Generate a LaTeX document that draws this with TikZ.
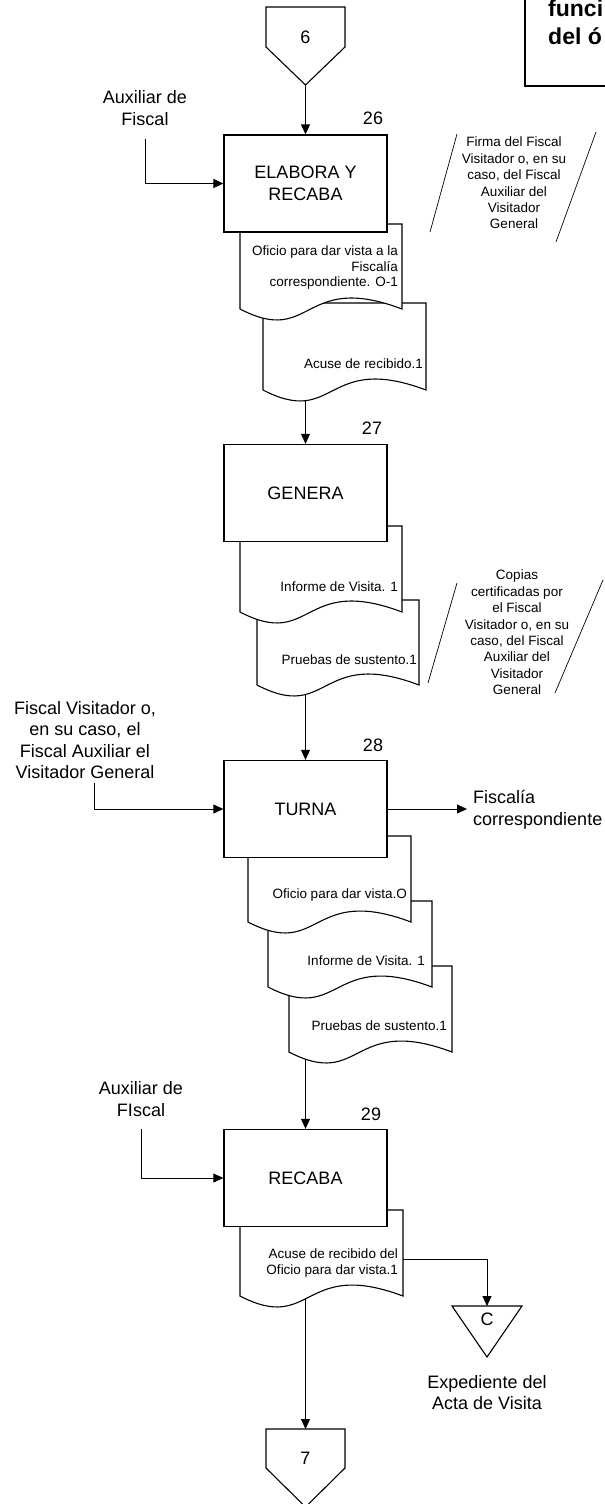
\documentclass[tikz,border=0pt]{standalone}
\usepackage{fontspec}
\setmainfont{Liberation Sans}
\usetikzlibrary{arrows.meta}
\newcommand\bigf{\fontsize{18bp}{21.5bp}\selectfont}
\newcommand\smallf{\fontsize{13.5bp}{15.5bp}\selectfont}
\newcommand\annf{\fontsize{13.5bp}{16.4bp}\selectfont}
\newcommand\boldf{\fontsize{23bp}{27bp}\selectfont\bfseries}
\newcommand\docshape[4]{\filldraw[shp] (#1,#4) -- (#1,#3) -- (#2,#3) -- (#2,#4) .. controls ({#1+0.38*(#2-#1)},{#4-38}) and ({#1+0.45*(#2-#1)},{#4+38}) .. (#1,#4) -- cycle;}
\begin{document}
\begin{tikzpicture}[x=1bp,y=-1bp,
  shp/.style={draw,line width=1.1bp,fill=white,line join=miter},
  proc/.style={draw,line width=1.3bp,fill=white,minimum width=163bp,minimum height=97bp,inner sep=0pt,align=center,font=\bigf},
  lbl/.style={inner sep=0pt,align=center,font=\bigf},
  doctxt/.style={inner sep=0pt,align=right,font=\smallf,anchor=east},
  anntxt/.style={inner sep=0pt,align=center,font=\annf},
  conn/.style={line width=0.9bp,-{Triangle[length=10bp,width=9bp]}},
  thinl/.style={line width=0.7bp},
]
\useasboundingbox (0,0) rectangle (605,1504);
\clip (0,0) rectangle (605,1504);

% top right box (cut by the page edge)
\draw[line width=2bp] (525,-10) rectangle (620,86);
\node[font=\boldf,anchor=base west,inner sep=0pt] (tr1) at (548,17) {funci};
\node[font=\boldf,anchor=base west,inner sep=0pt] (tr2) at (548,45) {del ó};

% off-page connector 6
\filldraw[shp] (266,7) -- (345,7) -- (345,47) -- (305.5,85) -- (266,47) -- cycle;
\coordinate (c6) at (305.5,85);
\node[lbl] (l6) at (305.5,37) {6};

% ---------- step 26
\docshape{263}{426}{303}{390}
\docshape{240}{402}{224}{309}
\node[proc] (b26) at (305.5,183.5) {ELABORA Y\\RECABA};
\node[lbl] (n26) at (373,118) {26};
\node[lbl] (in26) at (145,108) {Auxiliar de\\Fiscal};
\coordinate (in26s) at (145,139);
\draw[conn] (in26s) |- (b26.west);
\draw[conn] (c6) -- (b26.north);
\node[doctxt] (d26a) at (398,268) {Oficio para dar vista a la\\Fiscalía\\correspondiente. O-1};
\node[doctxt] (d26b) at (423,364) {Acuse de recibido.1};
\coordinate (d26bot) at (305.5,400.7);

% annotation 1
\coordinate (a1a) at (457,134); \coordinate (a1b) at (430,232);
\coordinate (a1c) at (596,132); \coordinate (a1d) at (556,242);
\draw[thinl] (a1a) -- (a1b);
\draw[thinl] (a1c) -- (a1d);
\node[anntxt] (ann1) at (514,183) {Firma del Fiscal\\Visitador o, en su\\caso, del Fiscal\\Auxiliar del\\Visitador\\General};

% ---------- step 27
\docshape{257}{419}{600}{685}
\docshape{240}{402}{526}{612}
\node[proc] (b27) at (305.5,493) {GENERA};
\node[lbl] (n27) at (372,428) {27};
\draw[conn] (d26bot) -- (b27.north);
\node[doctxt] (d27a) at (398,587) {Informe de Visita. 1};
\node[doctxt] (d27b) at (417,660) {Pruebas de sustento.1};
\coordinate (d27bot) at (305.5,694.6);

% annotation 2
\coordinate (a2a) at (457,583); \coordinate (a2b) at (428,683);
\coordinate (a2c) at (603,580); \coordinate (a2d) at (555,693);
\draw[thinl] (a2a) -- (a2b);
\draw[thinl] (a2c) -- (a2d);
\node[anntxt] (ann2) at (517,632.5) {Copias\\certificadas por\\el Fiscal\\Visitador o, en su\\caso, del Fiscal\\Auxiliar del\\Visitador\\General};

% ---------- step 28
\docshape{289}{452}{966}{1052}
\docshape{268}{432}{901}{987}
\docshape{248}{411}{836}{922}
\node[proc] (b28) at (305.5,809) {TURNA};
\node[lbl] (n28) at (373,745) {28};
\draw[conn] (d27bot) -- (b28.north);
\node[lbl] (in28) at (85,740) {Fiscal Visitador o,\\en su caso, el\\Fiscal Auxiliar el\\Visitador General};
\coordinate (in28s) at (94,783);
\draw[conn] (in28s) |- (b28.west);
\node[lbl,anchor=west,align=left] (out28) at (473,809.5) {Fiscalía\\correspondiente};
\coordinate (out28e) at (467,809);
\draw[conn] (b28.east) -- (out28e);
\node[doctxt] (d28a) at (407,895) {Oficio para dar vista.O};
\node[doctxt] (d28b) at (425,961) {Informe de Visita. 1};
\node[doctxt] (d28c) at (447,1026) {Pruebas de sustento.1};
\coordinate (d28bot) at (305.5,1059);

% ---------- step 29
\docshape{240}{403}{1210}{1296}
\node[proc] (b29) at (305.5,1178) {RECABA};
\node[lbl] (n29) at (371,1114) {29};
\draw[conn] (d28bot) -- (b29.north);
\node[lbl] (in29) at (141,1099) {Auxiliar de\\FIscal};
\coordinate (in29s) at (141,1129);
\draw[conn] (in29s) |- (b29.west);
\node[doctxt] (d29a) at (398,1263) {Acuse de recibido del\\Oficio para dar vista.1};
\coordinate (d29out) at (403,1259);
\coordinate (d29bot) at (305.5,1299);

% file C
\filldraw[shp] (452,1306) -- (522,1306) -- (487,1357) -- cycle;
\coordinate (cTop) at (487,1306);
\node[lbl] (lc) at (487,1319) {C};
\draw[conn] (d29out) -| (cTop);
\node[lbl] (exp) at (487,1392.5) {Expediente del\\Acta de Visita};

% off-page connector 7
\filldraw[shp] (266,1429) -- (345,1429) -- (345,1468) -- (305.5,1507) -- (266,1468) -- cycle;
\coordinate (c7) at (305.5,1429);
\node[lbl] (l7) at (305.5,1458) {7};
\draw[conn] (d29bot) -- (c7);
\end{tikzpicture}
\end{document}
